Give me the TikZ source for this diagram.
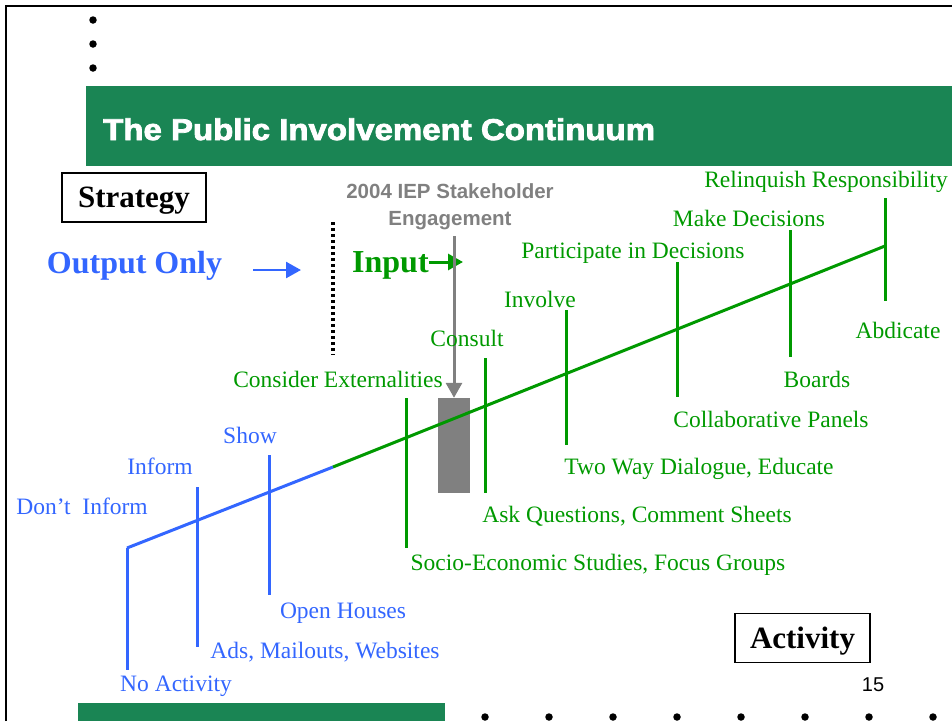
\documentclass[tikz,border=0pt]{standalone}
\usepackage{fontspec}
\setmainfont{Liberation Serif}
\newfontfamily\arialfont{Liberation Sans}
\newfontfamily\titlefont[FakeBold=2.5]{Liberation Sans Bold}
\usepackage{tikz}
\usetikzlibrary{arrows.meta}
\definecolor{titlegreen}{RGB}{26,133,84}
\definecolor{linegreen}{RGB}{0,153,0}
\definecolor{lineblue}{RGB}{51,102,255}
\definecolor{iepgray}{RGB}{128,128,128}
\tikzset{label style/.style={
		text=#1,
		font=\fontsize{23.5}{26}\selectfont,
		anchor=base,
		inner sep=0pt,
	},
	tick style/.style={
		draw=#1,
		line width=3pt,
	},
	box style/.style={
		draw=black,
		line width=1.2pt,
		fill=white,
		font=\fontsize{31}{34}\selectfont\bfseries,
		text depth=0pt,
		minimum height=49pt,
	},
	big style/.style={
		text=#1,
		font=\fontsize{32}{36}\selectfont\bfseries,
		inner sep=0pt,
	},
	dot style/.style={
		fill=black,
		circle,
		inner sep=0pt,
		minimum size=7.5pt,
	},
	arrow style/.style={
		draw=#1,
		line width=3pt,
		-{Triangle[length=15pt,width=16pt]},
	}
}

\begin{document}
\begin{tikzpicture}[x=1pt,y=-1pt]
	\useasboundingbox (0,0) rectangle (952,721);
	\draw[line width=2pt] (6,721) -- (6,6) -- (952,6);

	\foreach \y in {20,44,68}
		\node[dot style] at (93,\y) {};

	\fill[titlegreen] (86,86) rectangle (952,166);
	\node[anchor=base west, inner sep=0pt, text=white, font=\titlefont\fontsize{30}{34}\selectfont] (title) at (103,140) {\scalebox{1.1}[1]{The Public Involvement Continuum}};

	\node[box style, minimum width=144pt] (strategy) at (134,197.5) {Strategy};
	\node[box style, minimum width=135pt] (activity) at (802.5,638) {Activity};

	\node[big style=lineblue, anchor=base] (output) at (134.5,273) {Output Only};
	\coordinate (out-a) at (253,270);
	\coordinate (out-b) at (301,270);
	\draw[arrow style=lineblue, line width=2.5pt] (out-a) -- (out-b);

	\coordinate (dot-a) at (333,222);
	\coordinate (dot-b) at (333,355);
	\draw[line width=3.5pt, dash pattern=on 3pt off 3pt] (dot-a) -- (dot-b);

	\node[big style=linegreen, anchor=base west] (input) at (352,272) {Input};
	\coordinate (input-tip) at (463,262);
	\draw[arrow style=linegreen] (input.east |- input-tip) -- (input-tip);

	\node[anchor=north, align=center, inner sep=0pt, text=iepgray, font=\arialfont\bfseries\fontsize{20.5}{27}\selectfont] (iep) at (450,183) {2004 IEP Stakeholder\\Engagement};
	\node[fill=iepgray, inner sep=0pt, minimum width=32pt, minimum height=95pt] (gray) at (454,445.5) {};
	\coordinate (iep-a) at (454,236);
	\draw[arrow style=iepgray] (iep-a) -- (gray.north);

	\coordinate (line-start) at (127,548);
	\coordinate (line-mid) at (333,467);
	\coordinate (line-end) at (885,246);
	\draw[tick style=lineblue] (line-start) -- (line-mid);
	\draw[tick style=linegreen] (line-mid) -- (line-end);

	\coordinate (noact-top) at (127,548);
	\coordinate (noact-bot) at (127,670);
	\draw[tick style=lineblue] (noact-top) -- (noact-bot);
	\node[label style=lineblue] (dont) at (82,514) {Don’t\ \ Inform};
	\node[label style=lineblue] (noact) at (176,691) {No Activity};

	\coordinate (inform-top) at (197,487);
	\coordinate (inform-bot) at (197,647);
	\draw[tick style=lineblue] (inform-top) -- (inform-bot);
	\node[label style=lineblue] (inform) at (160,474) {Inform};
	\node[label style=lineblue] (ads) at (325,658) {Ads, Mailouts, Websites};

	\coordinate (show-top) at (269,455);
	\coordinate (show-bot) at (269,595);
	\draw[tick style=lineblue] (show-top) -- (show-bot);
	\node[label style=lineblue] (show) at (250,443) {Show};
	\node[label style=lineblue] (open) at (343,618) {Open Houses};

	\coordinate (ext-top) at (406,398);
	\coordinate (ext-bot) at (406,548);
	\draw[tick style=linegreen] (ext-top) -- (ext-bot);
	\node[label style=linegreen] (ext) at (338,387) {Consider Externalities};
	\node[label style=linegreen] (socio) at (598,570) {Socio-Economic Studies, Focus Groups};

	\coordinate (consult-top) at (485,358);
	\coordinate (consult-bot) at (485,493);
	\draw[tick style=linegreen] (consult-top) -- (consult-bot);
	\node[label style=linegreen] (consult) at (467,346) {Consult};
	\node[label style=linegreen] (ask) at (637,522) {Ask Questions, Comment Sheets};

	\coordinate (involve-top) at (566,310);
	\coordinate (involve-bot) at (566,445);
	\draw[tick style=linegreen] (involve-top) -- (involve-bot);
	\node[label style=linegreen] (involve) at (540,307) {Involve};
	\node[label style=linegreen] (twoway) at (699,474) {Two Way Dialogue, Educate};

	\coordinate (part-top) at (677,262);
	\coordinate (part-bot) at (677,397);
	\draw[tick style=linegreen] (part-top) -- (part-bot);
	\node[label style=linegreen] (part) at (633,258) {Participate in Decisions};
	\node[label style=linegreen] (collab) at (771,427) {Collaborative Panels};

	\coordinate (make-top) at (790,230);
	\coordinate (make-bot) at (790,357);
	\draw[tick style=linegreen] (make-top) -- (make-bot);
	\node[label style=linegreen] (make) at (749,226) {Make Decisions};
	\node[label style=linegreen] (boards) at (817,387) {Boards};

	\coordinate (relinq-top) at (885,198);
	\coordinate (relinq-bot) at (885,301);
	\draw[tick style=linegreen] (relinq-top) -- (relinq-bot);
	\node[label style=linegreen] (relinq) at (826,187) {Relinquish Responsibility};
	\node[label style=linegreen] (abdicate) at (898,338) {Abdicate};

	\node[anchor=base, inner sep=0pt, font=\arialfont\fontsize{20}{22}\selectfont] (page) at (873,691) {15};

	\fill[titlegreen] (78,703) rectangle (445,721);
	\foreach \x in {485,549,...,933}
		\node[dot style] at (\x,717) {};
\end{tikzpicture}
\end{document}
